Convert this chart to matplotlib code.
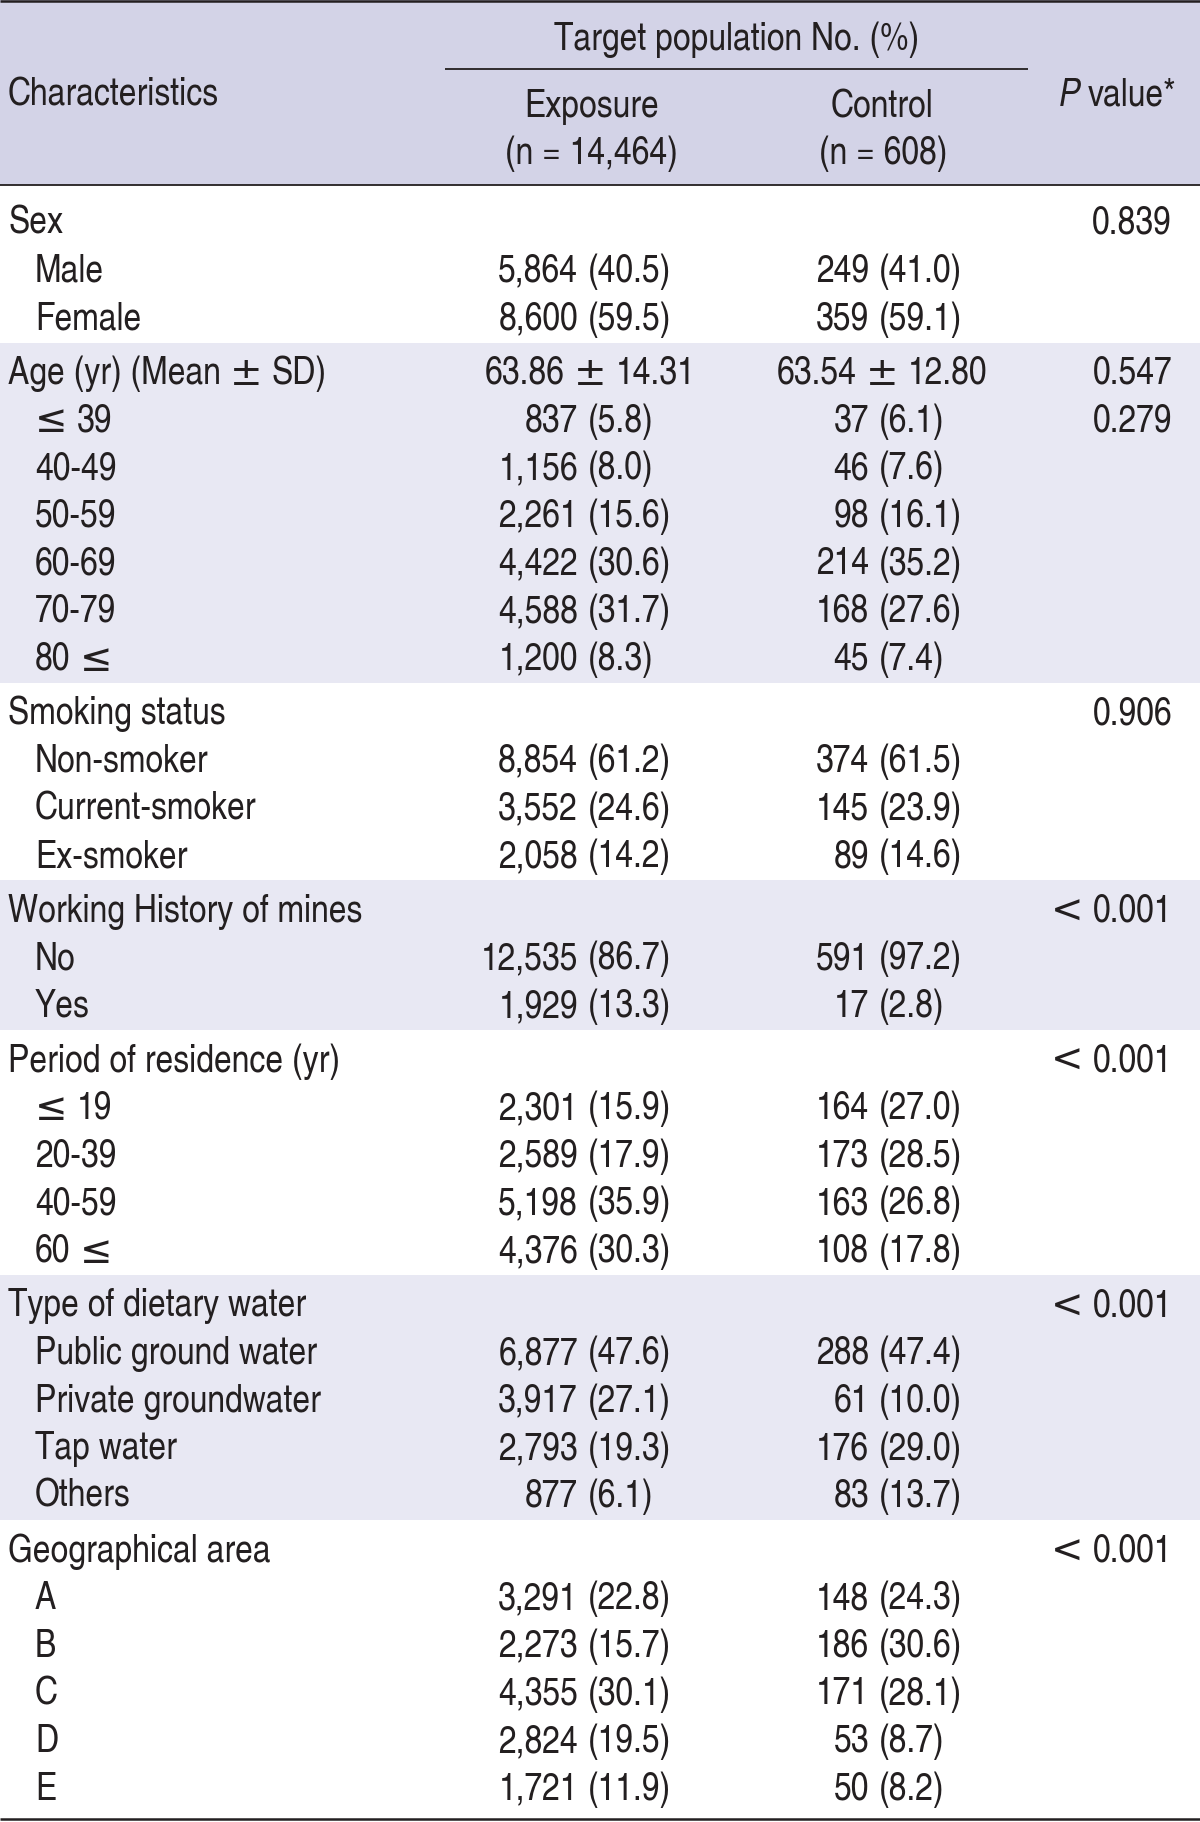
import matplotlib
matplotlib.use("Agg")
import matplotlib.pyplot as plt
from matplotlib.patches import Rectangle

# ---------------- data ----------------
group_titles = ["Sex", "Age (yr) (Mean \u00b1 SD)", "Smoking status", "Working History of mines",
                "Period of residence (yr)", "Type of dietary water", "Geographical area"]
group_items = [
    ["Male", "Female"],
    ["\u2264 39", "40-49", "50-59", "60-69", "70-79", "80 \u2264"],
    ["Non-smoker", "Current-smoker", "Ex-smoker"],
    ["No", "Yes"],
    ["\u2264 19", "20-39", "40-59", "60 \u2264"],
    ["Public ground water", "Private groundwater", "Tap water", "Others"],
    ["A", "B", "C", "D", "E"],
]
exposure = [
    ["", "5,864 (40.5)", "8,600 (59.5)"],
    ["63.86 \u00b1 14.31", "837 (5.8)", "1,156 (8.0)", "2,261 (15.6)", "4,422 (30.6)", "4,588 (31.7)", "1,200 (8.3)"],
    ["", "8,854 (61.2)", "3,552 (24.6)", "2,058 (14.2)"],
    ["", "12,535 (86.7)", "1,929 (13.3)"],
    ["", "2,301 (15.9)", "2,589 (17.9)", "5,198 (35.9)", "4,376 (30.3)"],
    ["", "6,877 (47.6)", "3,917 (27.1)", "2,793 (19.3)", "877 (6.1)"],
    ["", "3,291 (22.8)", "2,273 (15.7)", "4,355 (30.1)", "2,824 (19.5)", "1,721 (11.9)"],
]
control = [
    ["", "249 (41.0)", "359 (59.1)"],
    ["63.54 \u00b1 12.80", "37 (6.1)", "46 (7.6)", "98 (16.1)", "214 (35.2)", "168 (27.6)", "45 (7.4)"],
    ["", "374 (61.5)", "145 (23.9)", "89 (14.6)"],
    ["", "591 (97.2)", "17 (2.8)"],
    ["", "164 (27.0)", "173 (28.5)", "163 (26.8)", "108 (17.8)"],
    ["", "288 (47.4)", "61 (10.0)", "176 (29.0)", "83 (13.7)"],
    ["", "148 (24.3)", "186 (30.6)", "171 (28.1)", "53 (8.7)", "50 (8.2)"],
]
pvalues = [
    ["0.839", "", ""],
    ["0.547", "0.279", "", "", "", "", ""],
    ["0.906", "", "", ""],
    ["< 0.001", "", ""],
    ["< 0.001", "", "", "", ""],
    ["< 0.001", "", "", "", ""],
    ["< 0.001", "", "", "", "", ""],
]
header_span = "Target population No. (%)"
col_names = ["Characteristics", "Exposure", "Control", "value*"]
col_sub = ["(n = 14,464)", "(n = 608)"]

# ---------------- style ----------------
W, H = 1200, 1822
FONT = ["TeX Gyre Heros Cn", "Roboto Condensed", "DejaVu Sans"]
SYM_FONT = ["DejaVu Sans"]
SYMBOLS = "\u00b1\u2264<"
FS = 28
HEAD_BG = "#d3d3e7"
BAND_BG = "#e8e8f3"
LINE = "#231f20"
TXT = "#231f20"

fig = plt.figure(figsize=(W / 100, H / 100), dpi=100)
ax = fig.add_axes([0, 0, 1, 1])
ax.set_xlim(0, W)
ax.set_ylim(H, 0)
ax.axis("off")
renderer = fig.canvas.get_renderer()

x_label, x_indent = 8, 35
x_exp_par, x_ctl_par = 588, 879
x_exp_c, x_ctl_c = 590, 882
x_p_right = 1172
gap_num = 10     # gap between number and "("
gap_sym = 9      # gap around symbols

y0 = 224.0
step = 47.65
ggap = 6.8
header_bottom = 185
bottom = 1819


def width_of(t):
    return t.get_window_extent(renderer).width


def rich(x, y, s, ha="left", style="normal"):
    """Draw a string; symbol glyphs use a math-like font, the rest the condensed font."""
    pieces = []
    buf = []
    for word in s.split(" "):
        if len(word) == 1 and word in SYMBOLS:
            if buf:
                pieces.append((" ".join(buf), FONT))
                buf = []
            pieces.append((word, SYM_FONT))
        else:
            buf.append(word)
    if buf:
        pieces.append((" ".join(buf), FONT))
    objs = []
    for p, fam in pieces:
        t = ax.text(0, y, p, ha="left", va="center", fontsize=FS, family=fam,
                    color=TXT, style=style)
        objs.append(t)
    widths = [width_of(t) for t in objs]
    gaps = [gap_sym] * (len(pieces) - 1)
    total = sum(widths) + sum(gaps)
    if ha == "left":
        cx = x
    elif ha == "right":
        cx = x - total
    else:
        cx = x - total / 2
    for i, t in enumerate(objs):
        t.set_x(cx)
        cx += widths[i] + (gaps[i] if i < len(gaps) else 0)
    return objs


# header background
ax.add_patch(Rectangle((0, 0), W, header_bottom, facecolor=HEAD_BG, edgecolor="none"))

# row positions
row = 0
rows_y = []
for gi, items in enumerate(group_items):
    ys = []
    for k in range(len(items) + 1):
        ys.append(y0 + row * step + gi * ggap)
        row += 1
    rows_y.append(ys)

for gi, ys in enumerate(rows_y):
    top = header_bottom if gi == 0 else (rows_y[gi - 1][-1] + ys[0]) / 2 - 4
    bot = bottom if gi == len(rows_y) - 1 else (ys[-1] + rows_y[gi + 1][0]) / 2 - 4
    if gi % 2 == 1:
        ax.add_patch(Rectangle((0, top), W, bot - top, facecolor=BAND_BG, edgecolor="none"))


def draw_value(s, y, xpar, xc):
    if not s:
        return
    if " (" in s:
        num, par = s.split(" (", 1)
        rich(xpar - gap_num, y, num, ha="right")
        rich(xpar, y, "(" + par, ha="left")
    else:
        rich(xc, y, s, ha="center")


for gi, ys in enumerate(rows_y):
    labels = [group_titles[gi]] + group_items[gi]
    for k, y in enumerate(ys):
        rich(x_label if k == 0 else x_indent, y, labels[k])
        draw_value(exposure[gi][k], y, x_exp_par, x_exp_c)
        draw_value(control[gi][k], y, x_ctl_par, x_ctl_c)
        if pvalues[gi][k]:
            rich(x_p_right, y, pvalues[gi][k], ha="right")

# header texts
rich(x_label, 96, col_names[0])
rich(737, 40, header_span, ha="center")
rich(x_exp_c + 2, 107, col_names[1], ha="center")
rich(x_exp_c + 1, 154, col_sub[0], ha="center")
rich(x_ctl_c, 107, col_names[2], ha="center")
rich(x_ctl_c + 1, 154, col_sub[1], ha="center")
tv = ax.text(x_p_right + 4, 96, col_names[3], ha="right", va="center", fontsize=FS,
             family=FONT, color=TXT)
xl = x_p_right + 4 - width_of(tv)
ax.text(xl - 7, 96, "P", ha="right", va="center", fontsize=FS, family=FONT,
        color=TXT, style="italic")

# rules
ax.plot([0, W], [1.2, 1.2], color=LINE, lw=1.8, solid_capstyle="butt")
ax.plot([445, 1028], [69, 69], color=LINE, lw=1.3, solid_capstyle="butt")
ax.plot([0, W], [header_bottom, header_bottom], color=LINE, lw=1.3, solid_capstyle="butt")
ax.plot([0, W], [bottom, bottom], color=LINE, lw=1.8, solid_capstyle="butt")

fig.savefig("out.png", dpi=100)
